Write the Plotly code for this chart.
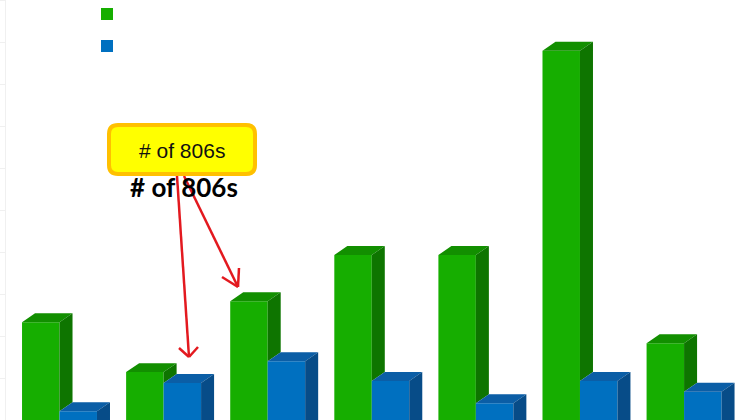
import plotly.graph_objects as go

# ---- data ----
categories = ["1", "2", "3", "4", "5", "6", "7"]
green_vals = [23.3, 11.4, 28.3, 39.3, 39.3, 87.9, 18.3]
blue_vals = [2.1, 8.8, 14.0, 9.3, 4.0, 9.3, 6.7]
callout_text = "# of 806s"

# ---- style ----
W, H = 736, 420
ML = 6
BW = 0.36          # bar width in category units
DX = 0.125         # 3D depth (x units)
DY = 2.14          # 3D depth (y units)
G_FRONT, G_TOP, G_SIDE = "#16ae00", "#128f00", "#0e7500"
B_FRONT, B_TOP, B_SIDE = "#0070c0", "#0b5ea6", "#074c88"

xs = list(range(len(categories)))

fig = go.Figure()
fig.add_trace(go.Bar(x=[i - BW / 2 for i in xs], y=green_vals, width=BW,
                     marker=dict(color=G_FRONT, line=dict(width=0)), name="green"))
fig.add_trace(go.Bar(x=[i + BW / 2 for i in xs], y=blue_vals, width=BW,
                     marker=dict(color=B_FRONT, line=dict(width=0)), name="blue"))


def poly_trace(polys, color):
    px, py = [], []
    for p in polys:
        for (a, b) in p:
            px.append(a)
            py.append(b)
        px.append(p[0][0]); py.append(p[0][1])
        px.append(None); py.append(None)
    return go.Scatter(x=px, y=py, mode="lines", fill="toself", fillcolor=color,
                      line=dict(width=0, color=color), hoverinfo="skip", showlegend=False)


g_top, g_side, b_top, b_side = [], [], [], []
for i, g, b in zip(xs, green_vals, blue_vals):
    g_top.append([(i - BW, g), (i, g), (i + DX, g + DY), (i - BW + DX, g + DY)])
    g_side.append([(i, g), (i + DX, g + DY), (i + DX, b + DY), (i, b)])
    b_top.append([(i, b), (i + BW, b), (i + BW + DX, b + DY), (i + DX, b + DY)])
    b_side.append([(i + BW, b), (i + BW + DX, b + DY), (i + BW + DX, -10), (i + BW, -10)])

fig.add_trace(poly_trace(g_top, G_TOP))
fig.add_trace(poly_trace(g_side, G_SIDE))
fig.add_trace(poly_trace(b_top, B_TOP))
fig.add_trace(poly_trace(b_side, B_SIDE))


def PX(p):
    return (p - ML) / (W - ML)


def PY(p):
    return 1 - p / H


shapes = []
# legend squares
shapes.append(dict(type="rect", xref="paper", yref="paper", x0=PX(101), x1=PX(113),
                   y0=PY(8), y1=PY(20), fillcolor=G_FRONT, line=dict(width=0)))
shapes.append(dict(type="rect", xref="paper", yref="paper", x0=PX(101), x1=PX(113),
                   y0=PY(40), y1=PY(52), fillcolor=B_FRONT, line=dict(width=0)))

# arrows
red = "#e3191f"
for (x0, y0, x1, y1) in [(177, 176, 189, 357), (179, 348, 189, 357), (198, 347, 189, 357),
                         (184, 176, 238, 287), (222, 277, 238, 287), (239, 268, 238, 287)]:
    shapes.append(dict(type="line", xref="paper", yref="paper", x0=PX(x0), y0=PY(y0),
                       x1=PX(x1), y1=PY(y1), line=dict(color=red, width=2.5)))

# rounded callout box
l, r, t, btm, rad = 109, 255, 125, 174, 9
pts = [
    f"M {PX(l + rad)},{PY(t)}",
    f"L {PX(r - rad)},{PY(t)}",
    f"Q {PX(r)},{PY(t)} {PX(r)},{PY(t + rad)}",
    f"L {PX(r)},{PY(btm - rad)}",
    f"Q {PX(r)},{PY(btm)} {PX(r - rad)},{PY(btm)}",
    f"L {PX(l + rad)},{PY(btm)}",
    f"Q {PX(l)},{PY(btm)} {PX(l)},{PY(btm - rad)}",
    f"L {PX(l)},{PY(t + rad)}",
    f"Q {PX(l)},{PY(t)} {PX(l + rad)},{PY(t)} Z",
]
shapes.append(dict(type="path", xref="paper", yref="paper", path=" ".join(pts),
                   fillcolor="#ffff00", line=dict(color="#ffc000", width=4)))

annotations = [
    dict(xref="paper", yref="paper", x=PX(182), y=PY(150), text=callout_text,
         showarrow=False, font=dict(family="Liberation Sans", size=21, color="#111111"),
         xanchor="center", yanchor="middle"),
    dict(xref="paper", yref="paper", x=PX(184), y=PY(187), text=f"<b>{callout_text}</b>",
         showarrow=False, font=dict(family="Lato", size=26, color="#000000"),
         xanchor="center", yanchor="middle"),
]

fig.update_layout(
    width=W, height=H,
    margin=dict(l=ML, r=0, t=0, b=0),
    paper_bgcolor="white", plot_bgcolor="white",
    showlegend=False,
    barmode="overlay",
    shapes=shapes,
    annotations=annotations,
    xaxis=dict(range=[-0.514, 6.499], showgrid=False, zeroline=False, showticklabels=False,
               showline=False, ticks=""),
    yaxis=dict(range=[0, 100], showgrid=False, zeroline=False, showticklabels=False,
               showline=True, linecolor="#f0f0f0", linewidth=1,
               ticks="outside", ticklen=6, tickcolor="#f0f0f0", dtick=10),
)

fig.write_html("out.html")
